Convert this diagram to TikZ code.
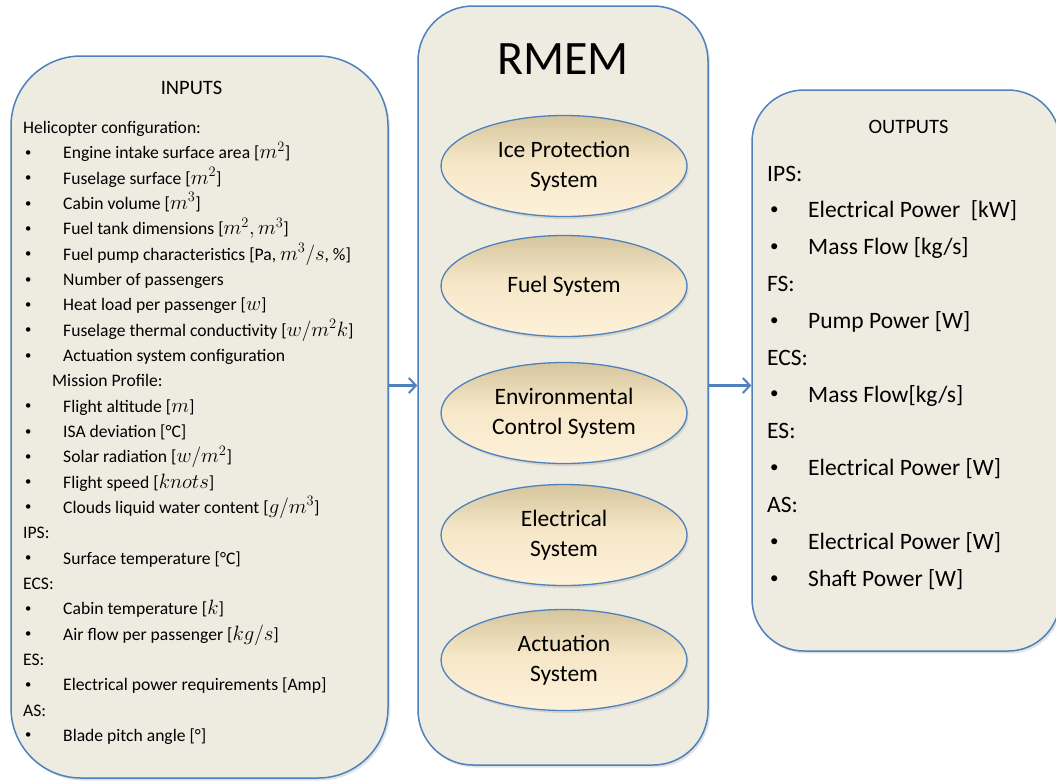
\documentclass[tikz,border=0pt]{standalone}
\usepackage{fontspec}
\setmainfont{Carlito}
\usetikzlibrary{arrows.meta,shadows,shapes.geometric}

\definecolor{panelfill}{RGB}{238,236,225}
\definecolor{panelline}{RGB}{79,129,189}
\definecolor{ovaltop}{RGB}{214,198,158}
\definecolor{ovalmid}{RGB}{246,231,200}
\definecolor{ovalbottom}{RGB}{254,241,218}

% tan-to-cream fill of the subsystem ovals (dark only near the top)
\pgfdeclareverticalshading{ovalshade}{100bp}{%
  color(0bp)=(ovalbottom); color(25bp)=(ovalbottom);
  color(52bp)=(ovalmid); color(75bp)=(ovaltop); color(100bp)=(ovaltop)}

% small list bullet and unit formulas
\newcommand{\dotmark}{\raisebox{0.14em}{\scalebox{0.72}{\textbullet}}}
\newcommand{\mth}[1]{{\fontsize{19.5}{21}\selectfont$#1$}}

% rows of the input list and of the output list
\newcommand{\inhead}[3]{\node[intext] (#1) at (23,{133.5+25.33*#2}) {#3};}
\newcommand{\initem}[3]{%
  \node[intext] (#1dot) at (25,{133.5+25.33*#2}) {\dotmark};
  \node[intext] (#1) at (63,{133.5+25.33*#2}) {#3};}
\newcommand{\outhead}[3]{\node[outtext] (#1) at (767,{181+36.85*#2}) {#3};}
\newcommand{\outitem}[3]{%
  \node[outtext] (#1dot) at (770,{181+36.85*#2}) {\dotmark};
  \node[outtext] (#1) at (808,{181+36.85*#2}) {#3};}

\begin{document}
\begin{tikzpicture}[x=1pt,y=-1pt,
  panel/.style={rectangle, draw=panelline, line width=1.5pt, fill=panelfill,
    inner sep=0pt,
    drop shadow={opacity=0.22, shadow xshift=2pt, shadow yshift=-2.5pt}},
  oval/.style={ellipse, draw=panelline, line width=1.3pt,
    shading=ovalshade,
    minimum width=246pt, minimum height=101pt, inner sep=0pt, align=center,
    font=\fontsize{23.5}{30}\selectfont,
    drop shadow={opacity=0.22, shadow xshift=1.5pt, shadow yshift=-2.5pt}},
  intext/.style={anchor=base west, inner sep=0pt, font=\fontsize{17.6}{21}\selectfont},
  outtext/.style={anchor=base west, inner sep=0pt, font=\fontsize{23.5}{28}\selectfont},
  heading/.style={anchor=base, inner sep=0pt, font=\fontsize{20.5}{24}\selectfont},
  flow/.style={draw=panelline, line width=2.5pt,
    -{Straight Barb[length=7pt,width=15pt,line width=2pt]}}]

\useasboundingbox (0,0) rectangle (1056,780);
\fill[white] (0,0) rectangle (1056,780);

% the three panels
\node[panel, rounded corners=70pt, minimum width=377pt, minimum height=722pt]
  (inputs) at (199.5,417) {};
\node[panel, rounded corners=55pt, minimum width=290pt, minimum height=759pt]
  (rmem) at (563,385.5) {};
\node[panel, rounded corners=52pt, minimum width=308pt, minimum height=561pt]
  (outputs) at (906,370.5) {};

% model core
\node[anchor=base, inner sep=0pt, font=\fontsize{48}{54}\selectfont]
  (rmemtitle) at (563,74) {RMEM};
\node[oval] (ips) at (564,166) {Ice Protection\\System};
\node[oval] (fs)  at (564,286) {Fuel System};
\node[oval] (ecs) at (564,413) {Environmental\\Control System};
\node[oval] (es)  at (564,535) {Electrical\\System};
\node[oval] (as)  at (564,660) {Actuation\\System};

% inputs
\node[heading] (intitle) at (191.5,94) {INPUTS};
\inhead{hc}{0}{Helicopter configuration:}
\initem{i1}{1}{Engine intake surface area [\mth{m^2}]}
\initem{i2}{2}{Fuselage surface [\mth{m^2}]}
\initem{i3}{3}{Cabin volume [\mth{m^3}]}
\initem{i4}{4}{Fuel tank dimensions [\mth{m^2, m^3}]}
\initem{i5}{5}{Fuel pump characteristics [Pa, \mth{m^3/s}, \%]}
\initem{i6}{6}{Number of passengers}
\initem{i7}{7}{Heat load per passenger [\mth{w}]}
\initem{i8}{8}{Fuselage thermal conductivity [\mth{w/m^2k}]}
\initem{i9}{9}{Actuation system configuration}
\node[intext] (mp) at (52,{133.5+25.33*10}) {Mission Profile:};
\initem{i11}{11}{Flight altitude [\mth{m}]}
\initem{i12}{12}{ISA deviation [°C]}
\initem{i13}{13}{Solar radiation [\mth{w/m^2}]}
\initem{i14}{14}{Flight speed [\mth{knots}]}
\initem{i15}{15}{Clouds liquid water content [\mth{g/m^3}]}
\inhead{hips}{16}{IPS:}
\initem{i17}{17}{Surface temperature [°C]}
\inhead{hecs}{18}{ECS:}
\initem{i19}{19}{Cabin temperature [\mth{k}]}
\initem{i20}{20}{Air flow per passenger [\mth{kg/s}]}
\inhead{hes}{21}{ES:}
\initem{i22}{22}{Electrical power requirements [Amp]}
\inhead{has}{23}{AS:}
\initem{i24}{24}{Blade pitch angle [°]}

% outputs
\node[heading] (outtitle) at (908.5,133) {OUTPUTS};
\outhead{oips}{0}{IPS:}
\outitem{o1}{1}{Electrical Power\ \ [kW]}
\outitem{o2}{2}{Mass Flow [kg/s]}
\outhead{ofs}{3}{FS:}
\outitem{o4}{4}{Pump Power [W]}
\outhead{oecs}{5}{ECS:}
\outitem{o6}{6}{Mass Flow[kg/s]}
\outhead{oes}{7}{ES:}
\outitem{o8}{8}{Electrical Power [W]}
\outhead{oas}{9}{AS:}
\outitem{o10}{10}{Electrical Power [W]}
\outitem{o11}{11}{Shaft Power [W]}

% data flow
\draw[flow] (inputs.east |- rmem.west) -- (rmem.west);
\draw[flow] (rmem.east) -- (outputs.west |- rmem.east);
\end{tikzpicture}
\end{document}
